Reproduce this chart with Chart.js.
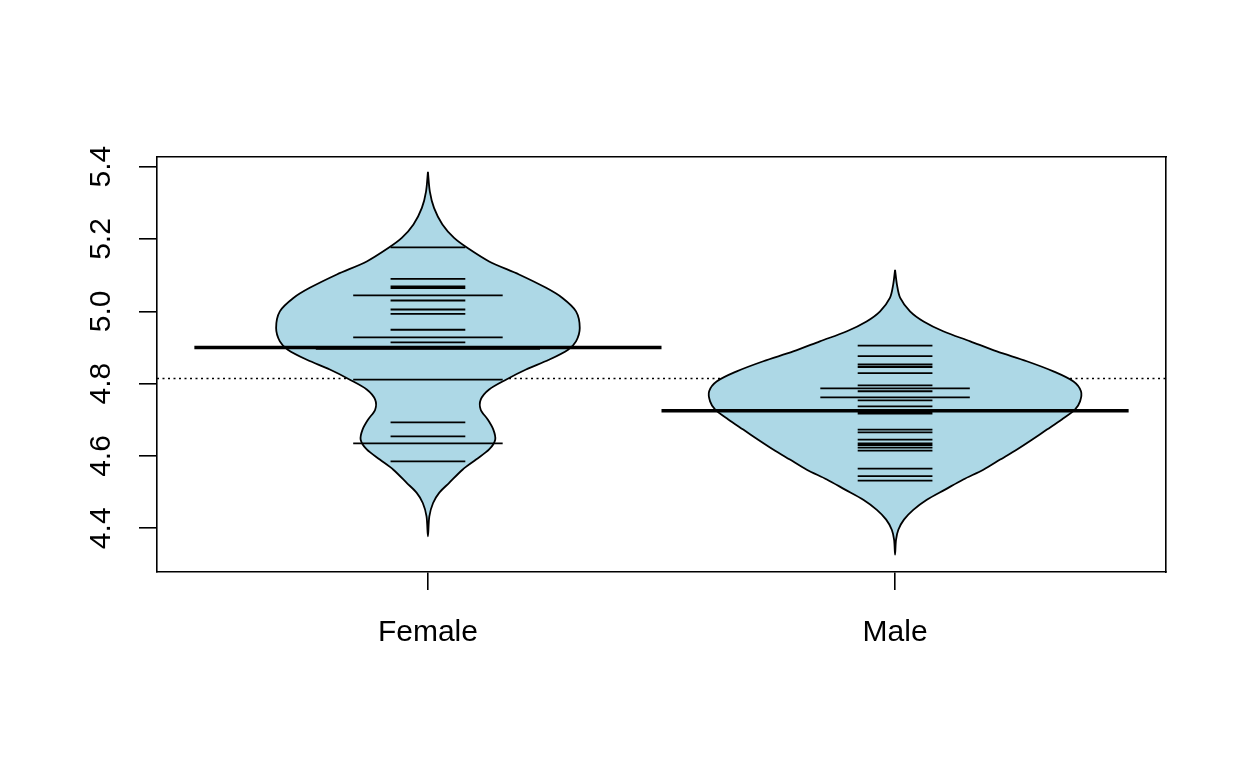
<!DOCTYPE html>
<html>
<head>
<meta charset="utf-8">
<script src="https://cdn.jsdelivr.net/npm/chart.js@4.4.1/dist/chart.umd.min.js"></script>
<style>
  html, body { margin: 0; padding: 0; background: #ffffff; }
  #wrap { width: 1248px; height: 768px; }
</style>
</head>
<body>
<div id="wrap"><canvas id="c" width="1248" height="768"></canvas></div>
<script>
// ---------- data ----------
const categories = ['Female', 'Male'];
const yTicks = [4.4, 4.6, 4.8, 5.0, 5.2, 5.4];
const yTickLabels = ['4.4', '4.6', '4.8', '5.0', '5.2', '5.4'];

// individual observations (bean lines) and how many share each value
const femaleValues = [5.177, 5.090, 5.069, 5.064, 5.044, 5.030, 5.005, 4.993, 4.949, 4.928, 4.914, 4.896, 4.811, 4.693, 4.654, 4.635, 4.585];
const femaleCounts = [1, 1, 1, 1, 2, 1, 1, 1, 1, 2, 1, 3, 2, 1, 1, 2, 1];
const maleValues = [4.905, 4.876, 4.853, 4.846, 4.829, 4.795, 4.787, 4.779, 4.762, 4.754, 4.737, 4.721, 4.717, 4.673, 4.665, 4.645, 4.635, 4.630, 4.623, 4.615, 4.565, 4.544, 4.532];
const maleCounts = [1, 1, 1, 1, 1, 1, 2, 1, 2, 1, 1, 1, 1, 1, 1, 1, 1, 1, 1, 1, 1, 1, 1];

// group means and overall mean
const groupMeans = [4.900, 4.725];
const overallMean = 4.814;

// bean outlines: value levels (top to bottom) and half-width of the bean at each level
const femaleOutlineY = [5.386, 5.332, 5.286, 5.240, 5.203, 5.175, 5.138, 5.102, 5.065, 5.037, 5.000, 4.954, 4.917, 4.894, 4.866, 4.839, 4.811, 4.784, 4.756, 4.728, 4.701, 4.673, 4.645, 4.618, 4.590, 4.562, 4.525, 4.498, 4.470, 4.433, 4.378];
const femaleOutlineW = [0.000, 0.004, 0.013, 0.031, 0.056, 0.085, 0.131, 0.195, 0.253, 0.288, 0.317, 0.325, 0.317, 0.300, 0.259, 0.210, 0.167, 0.131, 0.113, 0.113, 0.128, 0.140, 0.144, 0.131, 0.103, 0.074, 0.045, 0.024, 0.011, 0.003, 0.000];
const maleOutlineY = [5.115, 5.074, 5.037, 5.000, 4.972, 4.945, 4.917, 4.889, 4.862, 4.834, 4.806, 4.779, 4.751, 4.728, 4.701, 4.673, 4.645, 4.618, 4.590, 4.562, 4.535, 4.507, 4.479, 4.451, 4.424, 4.396, 4.368, 4.327];
const maleOutlineW = [0.000, 0.004, 0.011, 0.032, 0.061, 0.103, 0.161, 0.218, 0.282, 0.339, 0.382, 0.398, 0.396, 0.385, 0.357, 0.325, 0.293, 0.261, 0.225, 0.189, 0.146, 0.107, 0.068, 0.039, 0.019, 0.007, 0.002, 0.000];

// ---------- geometry / style ----------
const X_MIN = 0.42, X_MAX = 2.58, Y_MIN = 4.2791, Y_MAX = 5.4268;
const BEAN_LINE_HALF = 0.08;  // half length of a single bean line (x units)
const MEAN_HALF = 0.5;
const BEAN_FILL = '#ADD8E6';

function outlinePoints(center, ys, ws) {
  const pts = [];
  for (let i = 0; i < ys.length; i++) pts.push({x: center - ws[i], y: ys[i]});
  for (let i = ys.length - 2; i >= 0; i--) pts.push({x: center + ws[i], y: ys[i]});
  return pts;
}
function beanLinePoints(center, values, counts) {
  const pts = [];
  values.forEach((v, i) => {
    const h = BEAN_LINE_HALF * counts[i];
    pts.push({x: center - h, y: v});
    pts.push({x: center + h, y: v});
    pts.push({x: center, y: null});
  });
  return pts;
}
function meanPoints() {
  const pts = [];
  groupMeans.forEach((m, i) => {
    pts.push({x: i + 1 - MEAN_HALF, y: m});
    pts.push({x: i + 1 + MEAN_HALF, y: m});
    pts.push({x: i + 1, y: null});
  });
  return pts;
}

const FONT = {family: "'Liberation Sans', Arial, sans-serif", size: 30};

const datasets = [
  { // group mean lines (top)
    data: meanPoints(), showLine: true, borderColor: '#000', borderWidth: 3.5,
    pointRadius: 0, tension: 0, spanGaps: false, order: 0, fill: false
  },
  { // female bean lines
    data: beanLinePoints(1, femaleValues, femaleCounts), showLine: true, borderColor: '#000', borderWidth: 1.8,
    pointRadius: 0, tension: 0, spanGaps: false, order: 1, fill: false
  },
  { // male bean lines
    data: beanLinePoints(2, maleValues, maleCounts), showLine: true, borderColor: '#000', borderWidth: 1.8,
    pointRadius: 0, tension: 0, spanGaps: false, order: 1, fill: false
  },
  { // female bean
    data: outlinePoints(1, femaleOutlineY, femaleOutlineW), showLine: true, borderColor: '#000', borderWidth: 1.8,
    backgroundColor: BEAN_FILL, fill: 'shape', pointRadius: 0, tension: 0.3, order: 2
  },
  { // male bean
    data: outlinePoints(2, maleOutlineY, maleOutlineW), showLine: true, borderColor: '#000', borderWidth: 1.8,
    backgroundColor: BEAN_FILL, fill: 'shape', pointRadius: 0, tension: 0.3, order: 2
  },
  { // overall mean, dotted
    data: [{x: X_MIN, y: overallMean}, {x: X_MAX, y: overallMean}], showLine: true, borderColor: '#000',
    borderWidth: 1.5, borderDash: [2, 3.5], pointRadius: 0, order: 3, fill: false
  }
];

new Chart(document.getElementById('c'), {
  type: 'scatter',
  data: { datasets },
  options: {
    responsive: false,
    animation: false,
    events: [],
    layout: { padding: 0 },
    plugins: { legend: { display: false }, tooltip: { enabled: false }, title: { display: false } },
    scales: {
      x: {
        type: 'linear', position: 'bottom', min: X_MIN, max: X_MAX,
        afterBuildTicks: (s) => { s.ticks = categories.map((c, i) => ({value: i + 1})); },
        afterFit: (s) => { s.height = 196; },
        ticks: { callback: (v, i) => categories[i], color: '#000', font: FONT, padding: 25, autoSkip: false, maxRotation: 0, minRotation: 0 },
        grid: { drawOnChartArea: false, drawTicks: true, tickLength: 18, color: '#000', lineWidth: 1.6 },
        border: { display: true, color: '#000', width: 1.6 }
      },
      y: {
        type: 'linear', position: 'left', min: Y_MIN, max: Y_MAX,
        afterBuildTicks: (s) => { s.ticks = yTicks.map(v => ({value: v})); },
        afterFit: (s) => { s.width = 157; },
        ticks: { callback: (v, i) => yTickLabels[i], color: '#000', font: FONT, padding: 16, autoSkip: false,
                 minRotation: 90, maxRotation: 90, crossAlign: 'center' },
        grid: { drawOnChartArea: false, drawTicks: true, tickLength: 18, color: '#000', lineWidth: 1.6 },
        border: { display: true, color: '#000', width: 1.6 }
      },
      x2: {
        type: 'linear', axis: 'x', position: 'top', min: X_MIN, max: X_MAX,
        afterFit: (s) => { s.height = 157; },
        ticks: { display: false },
        grid: { display: false, drawTicks: false },
        border: { display: true, color: '#000', width: 1.6 }
      },
      y2: {
        type: 'linear', axis: 'y', position: 'right', min: Y_MIN, max: Y_MAX,
        afterFit: (s) => { s.width = 82; },
        ticks: { display: false },
        grid: { display: false, drawTicks: false },
        border: { display: true, color: '#000', width: 1.6 }
      }
    }
  }
});
</script>
</body>
</html>
